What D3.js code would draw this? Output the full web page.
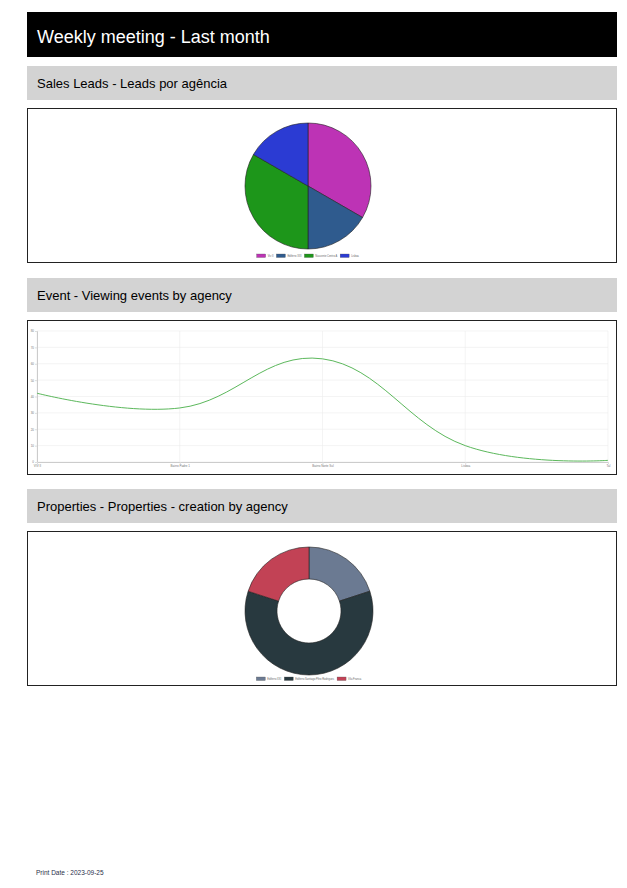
<!DOCTYPE html>
<html>
<head>
<meta charset="utf-8">
<script src="https://cdn.jsdelivr.net/npm/d3@7"></script>
<style>
  body { margin: 0; background: #fff; font-family: "Liberation Sans", Arial, sans-serif; }
  .page { position: relative; width: 627px; height: 888px; }
  .header { position: absolute; left: 27px; top: 12px; width: 590px; height: 45px; background: #000;
            color: #fff; font-size: 18px; line-height: 50px; box-sizing: border-box; padding-left: 10px; }
  .section { position: absolute; left: 27px; width: 590px; height: 34px; background: #d3d3d3;
             font-size: 13px; line-height: 35px; box-sizing: border-box; padding-left: 10px; color: #000; }
  .box { position: absolute; left: 27px; width: 590px; height: 155px; border: 1px solid #222; box-sizing: border-box; }
  .box svg { position: absolute; left: -1px; top: -1px; }
  .footer { position: absolute; left: 36px; top: 869px; font-size: 6.5px; color: #2a2f4a; }
</style>
</head>
<body>
<div class="page">
  <div class="header">Weekly meeting - Last month</div>
  <div class="section" style="top:66px">Sales Leads - Leads por agência</div>
  <div class="box" id="leads" style="top:108px"></div>
  <div class="section" style="top:278px">Event - Viewing events by agency</div>
  <div class="box" id="events" style="top:320px"></div>
  <div class="section" style="top:489px">Properties - Properties - creation by agency</div>
  <div class="box" id="props" style="top:531px"></div>
  <div class="footer">Print Date : 2023-09-25</div>
</div>
<script>
// leads per agency
var leadAgencies = ["Viv II", "Ediferro XXI", "Nascente Centro A", "Lisboa"];
var leadCounts = [6, 3, 6, 3];
var leadColors = ["#bd33b5", "#2f5b8e", "#1d961a", "#2b3bd3"];

// viewing events
var eventAgencies = ["VIV II", "Bairro Padre 1", "Bairro Norte Sul", "Lisboa", "Tal"];
var eventCounts = [42, 33, 63, 10, 1];
var eventTicks = [0, 10, 20, 30, 40, 50, 60, 70, 80];

// properties created
var propAgencies = ["Ediferro XXI", "Ediferro Santiago Pêro Rodrigues", "Vila Franca"];
var propCounts = [1, 3, 1];
var propColors = ["#6b7a92", "#28393f", "#c24255"];

var W = 590, H = 155;

function drawPie(id, labels, values, colors, cx, cy, outer, inner, legendY) {
    var svg = d3.select(id).append("svg").attr("width", W).attr("height", H);
    var pie = d3.pie().sort(null)(values);
    var arc = d3.arc().innerRadius(inner).outerRadius(outer);
    svg.append("g")
        .attr("transform", `translate(${cx},${cy})`)
        .selectAll("path")
        .data(pie)
        .enter()
        .append("path")
        .attr("d", arc)
        .attr("fill", (d, i) => colors[i])
        .attr("stroke", "#222")
        .attr("stroke-width", 0.6);

    // legend, tiny like the original
    var lg = svg.append("g").attr("font-size", 2.6).attr("fill", "#666");
    var x = 0;
    labels.forEach(function (l, i) {
        lg.append("rect").attr("x", x).attr("y", legendY - 2).attr("width", 9).attr("height", 3.5)
            .attr("fill", colors[i]).attr("stroke", "#555").attr("stroke-width", 0.3);
        var t = lg.append("text").attr("x", x + 11).attr("y", legendY + 1).text(l);
        x += 11 + t.node().getComputedTextLength() + 3;
    });
    // center legend under the chart
    var bb = lg.node().getBBox();
    lg.attr("transform", `translate(${cx - (bb.x + bb.width / 2)},0)`);
}

drawPie("#leads", leadAgencies, leadCounts, leadColors, 281, 78, 63, 0, 148);
drawPie("#props", propAgencies, propCounts, propColors, 282, 80, 64, 32, 148);

// line chart
(function () {
    var svg = d3.select("#events").append("svg").attr("width", W).attr("height", H);
    var left = 10, right = 581, top = 11, bottom = 142;
    var x = d3.scalePoint().domain(eventAgencies).range([left, right]);
    var y = d3.scaleLinear().domain([0, 80]).range([bottom, top]);

    var grid = svg.append("g").attr("stroke", "#ececec").attr("stroke-width", 0.6);
    grid.selectAll(".h").data(eventTicks).enter().append("line")
        .attr("x1", left).attr("x2", right).attr("y1", d => y(d)).attr("y2", d => y(d));
    grid.selectAll(".v").data(eventAgencies).enter().append("line")
        .attr("x1", d => x(d)).attr("x2", d => x(d)).attr("y1", top).attr("y2", bottom);

    var yAxis = svg.append("g")
        .attr("transform", `translate(${left},0)`)
        .call(d3.axisLeft(y).tickValues(eventTicks).tickSize(2).tickPadding(1));
    yAxis.select(".domain").attr("stroke", "#ccc");
    yAxis.selectAll(".tick line").attr("stroke", "#ddd");
    yAxis.selectAll("text").attr("font-size", 3).attr("fill", "#777");

    var xAxis = svg.append("g")
        .attr("transform", `translate(0,${bottom})`)
        .call(d3.axisBottom(x).tickSize(2).tickPadding(1));
    xAxis.select(".domain").attr("stroke", "#ccc");
    xAxis.selectAll(".tick line").attr("stroke", "#ddd");
    xAxis.selectAll("text").attr("font-size", 3).attr("fill", "#777");

    var line = d3.line()
        .x((d, i) => x(eventAgencies[i]))
        .y(d => y(d))
        .curve(d3.curveCardinal.tension(-0.2));
    svg.append("path")
        .datum(eventCounts)
        .attr("d", line)
        .attr("fill", "none")
        .attr("stroke", "#5cb85c")
        .attr("stroke-width", 1);
})();
</script>
</body>
</html>
